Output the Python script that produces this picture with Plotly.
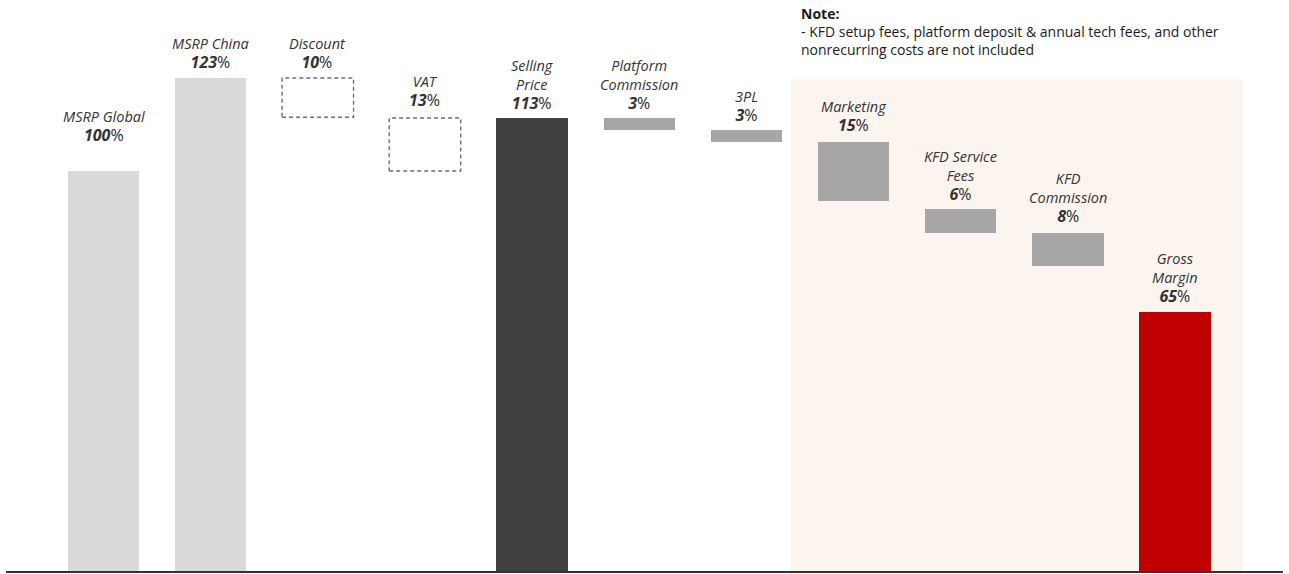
import plotly.graph_objects as go

categories = ["MSRP Global", "MSRP China", "Discount", "VAT", "Selling<br>Price",
              "Platform<br>Commission", "3PL", "Marketing", "KFD Service<br>Fees",
              "KFD<br>Commission", "Gross<br>Margin"]
pct_labels = ["100", "123", "10", "13", "113", "3", "3", "15", "6", "8", "65"]
bar_top = [100, 123.2, 123.2, 113.2, 113.2, 113.2, 110.2, 107.3, 90.5, 84.5, 64.9]
bar_bottom = [0, 0, 113.4, 100, 0, 110.2, 107.2, 92.4, 84.5, 76.3, 0]
bar_kind = ["light", "light", "dashed", "dashed", "dark", "mid", "mid", "mid", "mid", "mid", "red"]
note_lines = ["<b>Note:</b>",
              "- KFD setup fees, platform deposit & annual tech fees, and other",
              "nonrecurring costs are not included"]

colors = {"light": "#d9d9d9", "dark": "#404040", "mid": "#a6a6a6", "red": "#c00000"}
FONT = "Open Sans"
W = 0.667

fig = go.Figure()

# shaded region
fig.add_shape(type="rect", xref="x", yref="y", x0=6.416, x1=10.634, y0=0, y1=122.8,
              fillcolor="#fcf4ee", line_width=0, layer="below")

for i, k in enumerate(bar_kind):
    if k == "dashed":
        x0, x1 = i - W / 2, i + W / 2
        fig.add_trace(go.Scatter(x=[x0, x1, x1, x0, x0],
                                 y=[bar_bottom[i], bar_bottom[i], bar_top[i], bar_top[i], bar_bottom[i]],
                                 mode="lines", line=dict(color="#6e6e6e", width=1.4, dash="4px,3px"),
                                 hoverinfo="skip", showlegend=False))
    else:
        fig.add_trace(go.Bar(x=[i], y=[bar_top[i] - bar_bottom[i]], base=[bar_bottom[i]],
                             width=W, marker=dict(color=colors[k], line_width=0),
                             hoverinfo="skip", showlegend=False))

yshifts = [23, 3, 3, 5, 2, 2, 2, 4, 2, 4, 3]
for i, name in enumerate(categories):
    txt = ("<i>" + name + "</i><br><b><i><span style='font-size:16px'>" + pct_labels[i] +
           "</span></i></b><span style='font-size:16px;color:#262626'>%</span>")
    fig.add_annotation(x=i, y=bar_top[i], xref="x", yref="y", text=txt, showarrow=False,
                       yanchor="bottom", yshift=yshifts[i],
                       font=dict(family=FONT, size=14.5, color="#333333"), align="center")

fig.add_annotation(x=799 / 1289, y=1 - 2 / 574, xref="paper", yref="paper",
                   xanchor="left", yanchor="top", align="left", showarrow=False,
                   text="<br>".join(note_lines),
                   font=dict(family=FONT, size=14, color="#1a1a1a"))

# baseline
fig.add_shape(type="line", xref="paper", yref="y", x0=6 / 1289, x1=1283 / 1289, y0=0, y1=0,
              line=dict(color="#333333", width=2))

fig.update_layout(
    width=1289, height=574, margin=dict(l=0, r=0, t=0, b=0),
    paper_bgcolor="white", plot_bgcolor="white", bargap=0,
    xaxis=dict(range=[-0.966, 11.064], visible=False, fixedrange=True),
    yaxis=dict(range=[-0.5, 142.64], visible=False, fixedrange=True),
    font=dict(family=FONT),
)

fig.write_html("out.html", config={"displayModeBar": False},
               post_script="document.body.style.margin='0';")
